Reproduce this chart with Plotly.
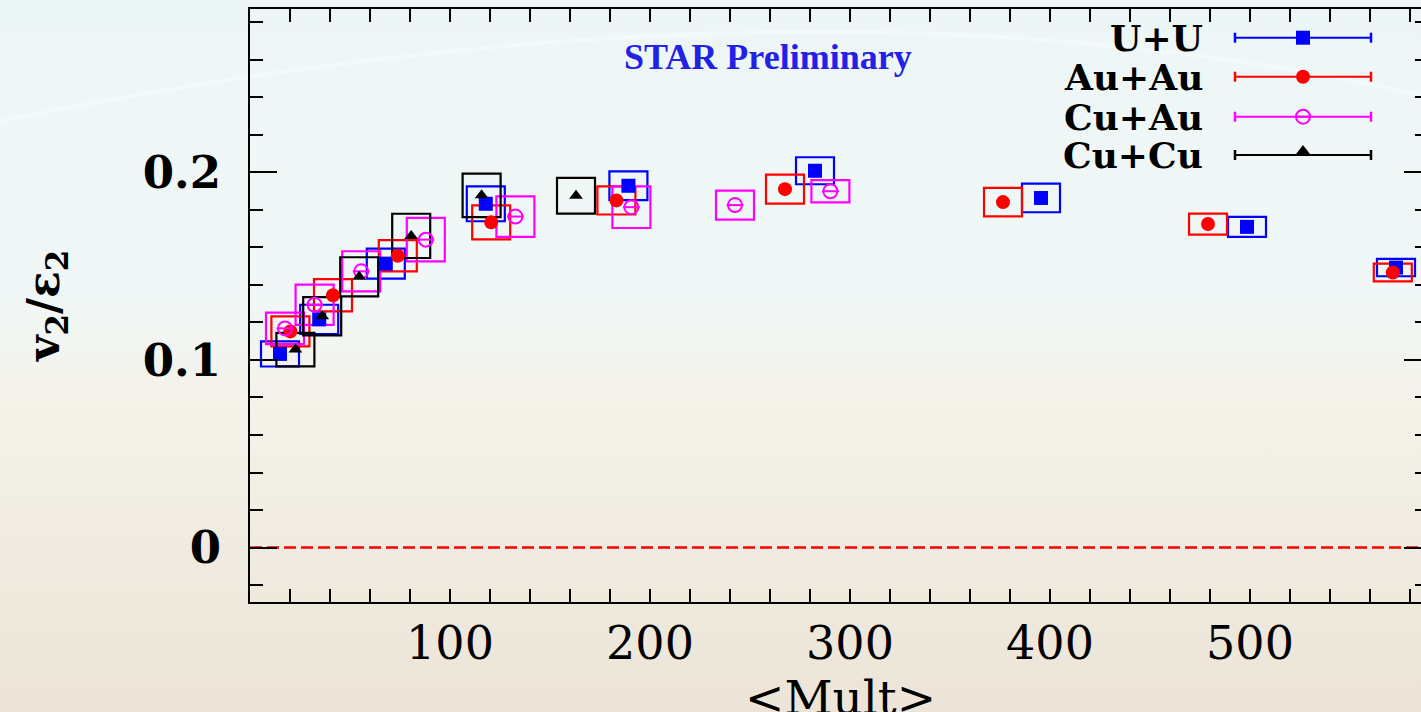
import base64
import plotly.graph_objects as go

# v2/eps2 versus <Mult> for four collision systems
uu_x = [15.0, 34.6, 67.9, 117.9, 189.2, 282.5, 395.5, 498.5, 573.0]
uu_y = [0.1032, 0.1216, 0.1513, 0.1832, 0.1928, 0.2008, 0.1863, 0.1709, 0.1492]
uu_sys = [0.0067, 0.0078, 0.0080, 0.0093, 0.0077, 0.0072, 0.0076, 0.0053, 0.0046]

auau_x = [20.2, 41.5, 73.9, 120.6, 183.2, 267.5, 376.5, 479.0, 571.4]
auau_y = [0.1152, 0.1345, 0.1555, 0.1733, 0.1850, 0.1910, 0.1841, 0.1724, 0.1466]
auau_sys = [0.0080, 0.0086, 0.0083, 0.0091, 0.0075, 0.0077, 0.0076, 0.0056, 0.0047]

cuau_x = [17.5, 32.3, 55.6, 87.9, 132.7, 190.7, 242.5, 290.2]
cuau_y = [0.1168, 0.1294, 0.1472, 0.1641, 0.1764, 0.1814, 0.1825, 0.1899]
cuau_sys = [0.0084, 0.0107, 0.0107, 0.0116, 0.0108, 0.0111, 0.0077, 0.0059]

cucu_x = [22.7, 36.1, 54.6, 80.6, 115.8, 163.0]
cucu_y = [0.1055, 0.1233, 0.1443, 0.1661, 0.1877, 0.1875]
cucu_sys = [0.0089, 0.0102, 0.0104, 0.0118, 0.0116, 0.0095]

system_names = ["U+U", "Au+Au", "Cu+Au", "Cu+Cu"]
x_ticks = [100, 200, 300, 400, 500]
y_ticks = [0.0, 0.1, 0.2]
y_tick_text = ["0", "0.1", "0.2"]

X_RANGE = [0, 585.5]
Y_RANGE = [-0.029, 0.287]
BOX_HALF_WIDTH = 9.5  # systematic box half-width in <Mult> units

SERIF = "DejaVu Serif"
BLUE, RED, MAGENTA, BLACK = "#0000ff", "#ff0000", "#ff00ff", "#000000"

W, H = 1421, 712
ML, MR, MT, MB = 250, 0, 9, 110
PW, PH = W - ML - MR, H - MT - MB


def px_x(p):
    return (p - ML) / PW


def px_y(p):
    return (H - MB - p) / PH


series = [
    (system_names[0], uu_x, uu_y, uu_sys, BLUE, dict(symbol="square", size=14, color=BLUE)),
    (system_names[1], auau_x, auau_y, auau_sys, RED, dict(symbol="circle", size=14, color=RED)),
    (system_names[2], cuau_x, cuau_y, cuau_sys, MAGENTA,
     dict(symbol="circle-open", size=14, color=MAGENTA, line=dict(color=MAGENTA, width=2))),
    (system_names[3], cucu_x, cucu_y, cucu_sys, BLACK, dict(symbol="triangle-up", size=12, color=BLACK)),
]

fig = go.Figure()
shapes = []

# soft page backdrop
svg = f"""<svg xmlns='http://www.w3.org/2000/svg' width='{W}' height='{H}' viewBox='0 0 {W} {H}'>
<defs><linearGradient id='g' x1='0' y1='0' x2='0' y2='1'>
<stop offset='0' stop-color='rgb(237,246,247)'/>
<stop offset='0.42' stop-color='rgb(240,247,246)'/>
<stop offset='0.56' stop-color='rgb(244,242,233)'/>
<stop offset='1' stop-color='rgb(236,228,215)'/>
</linearGradient></defs>
<rect width='{W}' height='{H}' fill='url(#g)'/>
<path d='M -20 125 Q 800 -45 1421 95' stroke='white' stroke-opacity='0.35' stroke-width='4' fill='none'/>
</svg>"""
fig.add_layout_image(
    source="data:image/svg+xml;base64," + base64.b64encode(svg.encode()).decode(),
    xref="paper", yref="paper", x=px_x(0), y=px_y(0),
    sizex=W / PW, sizey=H / PH, sizing="stretch", layer="below",
    xanchor="left", yanchor="top",
)

# dashed zero reference line
shapes.append(dict(type="line", xref="paper", yref="y", x0=0, x1=1, y0=0, y1=0,
                   line=dict(color=RED, width=2.5, dash="12px,5px"), layer="below"))

for name, xs, ys, sys, color, marker in series:
    # systematic uncertainty boxes
    for xv, yv, sv in zip(xs, ys, sys):
        shapes.append(dict(type="rect", xref="x", yref="y",
                           x0=xv - BOX_HALF_WIDTH, x1=xv + BOX_HALF_WIDTH,
                           y0=yv - sv, y1=yv + sv,
                           line=dict(color=color, width=2.2), fillcolor="rgba(0,0,0,0)",
                           layer="below"))
    fig.add_trace(go.Scatter(x=xs, y=ys, mode="markers", name=name, marker=marker,
                             showlegend=False, cliponaxis=False))
    if marker["symbol"] == "circle-open":
        fig.add_trace(go.Scatter(x=xs, y=ys, mode="markers", showlegend=False,
                                 marker=dict(symbol="line-ew", size=12,
                                             line=dict(color=color, width=2)),
                                 hoverinfo="skip"))

# right-hand frame ticks
fig.add_trace(go.Scatter(x=[], y=[], xaxis="x", yaxis="y2", showlegend=False))

# legend: label, error-bar line with caps, marker
leg_rows = [37.7, 76.7, 116.7, 155.0]
lx0, lx1, lxm, ltext = px_x(1235), px_x(1371), px_x(1303), px_x(1205)
cap = 5 / PH
for (name, xs, ys, sys, color, marker), row in zip(series, leg_rows):
    yy = px_y(row)
    shapes.append(dict(type="line", xref="paper", yref="paper", x0=lx0, x1=lx1, y0=yy, y1=yy,
                       line=dict(color=color, width=2), layer="above"))
    for xc in (lx0, lx1):
        shapes.append(dict(type="line", xref="paper", yref="paper", x0=xc, x1=xc,
                           y0=yy - cap, y1=yy + cap, line=dict(color=color, width=2.5),
                           layer="above"))
    my = yy + (4 / PH if marker["symbol"] == "triangle-up" else 0)
    fig.add_trace(go.Scatter(x=[lxm], y=[my], xaxis="x2", yaxis="y3", mode="markers",
                             marker=marker, showlegend=False, hoverinfo="skip"))
    if marker["symbol"] == "circle-open":
        fig.add_trace(go.Scatter(x=[lxm], y=[my], xaxis="x2", yaxis="y3", mode="markers",
                                 marker=dict(symbol="line-ew", size=12,
                                             line=dict(color=color, width=2)),
                                 showlegend=False, hoverinfo="skip"))
    fig.add_annotation(xref="paper", yref="paper", x=ltext, y=yy, text=name,
                       xanchor="right", yanchor="middle", showarrow=False,
                       font=dict(family=SERIF, size=36, color="black", weight="bold"))

annotations = [
    dict(xref="paper", yref="paper", x=px_x(768), y=px_y(57), text="STAR Preliminary",
         xanchor="center", yanchor="middle", showarrow=False,
         font=dict(family="Liberation Serif", size=36, color="#2222e6", weight="bold")),
    dict(xref="paper", yref="paper", x=px_x(46), y=px_y(306),
         text="v<sub>2</sub>/ε<sub>2</sub>", textangle=-90,
         xanchor="center", yanchor="middle", showarrow=False,
         font=dict(family=SERIF, size=44, color="black", weight="bold")),
    dict(xref="paper", yref="paper", x=px_x(840), y=px_y(697), text="&lt;Mult&gt;",
         xanchor="center", yanchor="middle", showarrow=False,
         font=dict(family=SERIF, size=47, color="black")),
]
for a in annotations:
    fig.add_annotation(**a)

fig.update_layout(
    width=W, height=H,
    margin=dict(l=ML, r=MR, t=MT, b=MB),
    paper_bgcolor="rgba(0,0,0,0)", plot_bgcolor="rgba(0,0,0,0)",
    shapes=shapes,
    showlegend=False,
    xaxis=dict(range=X_RANGE, tickvals=x_ticks, ticks="inside", ticklen=13, tickwidth=2,
               tickcolor="black", showline=True, linecolor="black", linewidth=2,
               mirror="allticks", showgrid=False, zeroline=False,
               minor=dict(dtick=20, tick0=0, ticks="inside", ticklen=7, tickwidth=2,
                          tickcolor="black", showgrid=False),
               tickfont=dict(family=SERIF, size=46, color="black"),
               ticklabelstandoff=0),
    yaxis=dict(range=Y_RANGE, tickvals=y_ticks, ticktext=y_tick_text, ticks="inside",
               ticklen=27, tickwidth=2, tickcolor="black", showline=True, linecolor="black",
               linewidth=2, mirror=False, showgrid=False, zeroline=False,
               minor=dict(dtick=0.02, tick0=0, ticks="inside", ticklen=13, tickwidth=2,
                          tickcolor="black", showgrid=False),
               tickfont=dict(family=SERIF, size=45, color="black", weight="bold"),
               ticklabelstandoff=18),
    yaxis2=dict(range=Y_RANGE, overlaying="y", side="right", tickvals=y_ticks,
                showticklabels=False, ticks="inside", ticklen=17, tickwidth=2,
                tickcolor="black", showline=True, linecolor="black", linewidth=2,
                showgrid=False, zeroline=False,
                minor=dict(dtick=0.02, tick0=0, ticks="inside", ticklen=6, tickwidth=2,
                           tickcolor="black", showgrid=False)),
    xaxis2=dict(range=[0, 1], overlaying="x", visible=False, fixedrange=True),
    yaxis3=dict(range=[0, 1], overlaying="y", visible=False, fixedrange=True),
)

fig.write_html("out.html")
